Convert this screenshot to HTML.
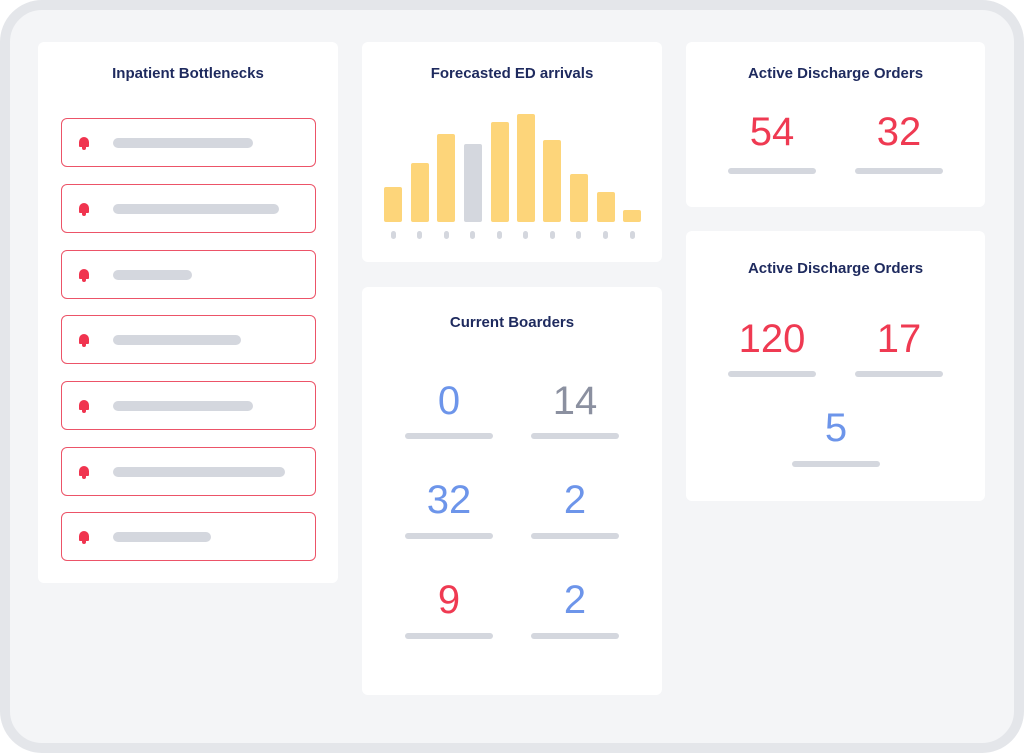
<!DOCTYPE html>
<html><head><style>
body{margin:0;width:1024px;height:753px;background:#fff;font-family:"Liberation Sans",sans-serif;position:relative;overflow:hidden}
.frame{position:absolute;left:0;top:0;width:1004px;height:733px;border:10px solid #e4e6ea;border-radius:42px;background:#f4f5f7}
.card{position:absolute;background:#fff;border-radius:6px}
.t{position:absolute;width:100%;text-align:center;font-size:15px;font-weight:bold;color:#1e2a5e}
.row{position:absolute;left:61px;width:253px;height:47px;border:1.5px solid #ec5468;border-radius:6px;background:#fff}
.bell{position:absolute;left:17px;top:18px;width:10px;height:10px;background:#f0344f;border-radius:5px 5px 1px 1px}
.bell:after{content:"";position:absolute;left:3px;top:10px;width:4px;height:3px;background:#f0344f;border-radius:0 0 2px 2px}
.g{position:absolute;height:10px;background:#d4d7de;border-radius:5px}
.bar{position:absolute;width:18px;border-radius:2px;background:#fdd57a}
.tick{position:absolute;top:231px;width:5px;height:8px;border-radius:3px;background:#d4d7de}
.n{position:absolute;width:120px;text-align:center;font-size:40px;line-height:40px}
.u{position:absolute;width:88px;height:6px;border-radius:3px;background:#d4d7de}
.r{color:#ef3a52}.b{color:#6d95ea}.gr{color:#8b90a0}
</style></head><body>
<div class="frame"></div>
<div class="card" style="left:38px;top:42px;width:300px;height:541px"></div>
<div class="t" style="left:38px;width:300px;top:65px">Inpatient Bottlenecks</div>
<div class="row" style="top:118px"><div class="bell"></div><div class="g" style="left:51px;top:19px;width:140px"></div></div>
<div class="row" style="top:184px"><div class="bell"></div><div class="g" style="left:51px;top:19px;width:166px"></div></div>
<div class="row" style="top:250px"><div class="bell"></div><div class="g" style="left:51px;top:19px;width:79px"></div></div>
<div class="row" style="top:315px"><div class="bell"></div><div class="g" style="left:51px;top:19px;width:128px"></div></div>
<div class="row" style="top:381px"><div class="bell"></div><div class="g" style="left:51px;top:19px;width:140px"></div></div>
<div class="row" style="top:447px"><div class="bell"></div><div class="g" style="left:51px;top:19px;width:172px"></div></div>
<div class="row" style="top:512px"><div class="bell"></div><div class="g" style="left:51px;top:19px;width:98px"></div></div>

<div class="card" style="left:362px;top:42px;width:300px;height:220px"></div>
<div class="t" style="left:362px;width:300px;top:65px">Forecasted ED arrivals</div>
<div class="bar" style="left:384px;top:187px;height:35px"></div>
<div class="bar" style="left:411px;top:163px;height:59px"></div>
<div class="bar" style="left:437px;top:134px;height:88px"></div>
<div class="bar" style="left:464px;top:144px;height:78px;background:#d4d7de"></div>
<div class="bar" style="left:491px;top:122px;height:100px"></div>
<div class="bar" style="left:517px;top:114px;height:108px"></div>
<div class="bar" style="left:543px;top:140px;height:82px"></div>
<div class="bar" style="left:570px;top:174px;height:48px"></div>
<div class="bar" style="left:597px;top:192px;height:30px"></div>
<div class="bar" style="left:623px;top:210px;height:12px"></div>
<div class="tick" style="left:391px"></div><div class="tick" style="left:417px"></div><div class="tick" style="left:444px"></div><div class="tick" style="left:470px"></div><div class="tick" style="left:497px"></div><div class="tick" style="left:523px"></div><div class="tick" style="left:550px"></div><div class="tick" style="left:576px"></div><div class="tick" style="left:603px"></div><div class="tick" style="left:630px"></div>

<div class="card" style="left:362px;top:287px;width:300px;height:408px"></div>
<div class="t" style="left:362px;width:300px;top:314px">Current Boarders</div>
<div class="n b" style="left:389px;top:381px">0</div><div class="u" style="left:405px;top:433px"></div>
<div class="n gr" style="left:515px;top:381px">14</div><div class="u" style="left:531px;top:433px"></div>
<div class="n b" style="left:389px;top:480px">32</div><div class="u" style="left:405px;top:533px"></div>
<div class="n b" style="left:515px;top:480px">2</div><div class="u" style="left:531px;top:533px"></div>
<div class="n r" style="left:389px;top:580px">9</div><div class="u" style="left:405px;top:633px"></div>
<div class="n b" style="left:515px;top:580px">2</div><div class="u" style="left:531px;top:633px"></div>

<div class="card" style="left:686px;top:42px;width:299px;height:165px"></div>
<div class="t" style="left:686px;width:299px;top:65px">Active Discharge Orders</div>
<div class="n r" style="left:712px;top:112px">54</div><div class="u" style="left:728px;top:168px"></div>
<div class="n r" style="left:839px;top:112px">32</div><div class="u" style="left:855px;top:168px"></div>

<div class="card" style="left:686px;top:231px;width:299px;height:270px"></div>
<div class="t" style="left:686px;width:299px;top:260px">Active Discharge Orders</div>
<div class="n r" style="left:712px;top:319px">120</div><div class="u" style="left:728px;top:371px"></div>
<div class="n r" style="left:839px;top:319px">17</div><div class="u" style="left:855px;top:371px"></div>
<div class="n b" style="left:776px;top:408px">5</div><div class="u" style="left:792px;top:461px"></div>
</body></html>
